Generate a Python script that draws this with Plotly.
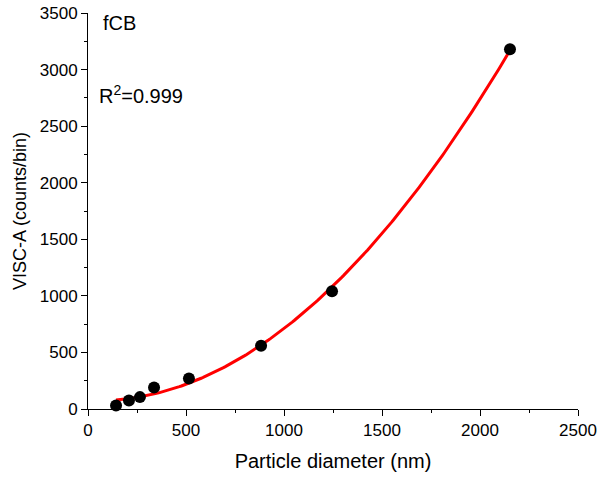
import numpy as np
import plotly.graph_objects as go

# Measured particle diameters (nm) and VISC-A response (counts/bin)
diameter_nm = [143, 209, 265, 337, 515, 883, 1245, 2153]
visc_counts = [30, 75, 105, 190, 270, 560, 1040, 3180]

# Second-order polynomial fit through the measurements
coef = np.polyfit(diameter_nm, visc_counts, 2)
fit_x = np.linspace(min(diameter_nm), max(diameter_nm), 200)
fit_y = np.polyval(coef, fit_x)

font_family = "Liberation Sans, Arial, sans-serif"

fig = go.Figure()
fig.add_trace(go.Scatter(
    x=fit_x, y=fit_y, mode="lines",
    line=dict(color="#ff0000", width=3),
    showlegend=False,
))
fig.add_trace(go.Scatter(
    x=diameter_nm, y=visc_counts, mode="markers",
    marker=dict(color="black", size=12, line=dict(width=0)),
    showlegend=False, cliponaxis=False,
))

axis_common = dict(
    showgrid=False, zeroline=False, showline=True, linecolor="black",
    linewidth=1, ticks="outside", ticklen=6, tickcolor="black", tickwidth=1,
    tickfont=dict(family=font_family, size=17, color="black"),
    minor=dict(ticks="outside", ticklen=3, tickcolor="black", dtick=250),
    dtick=500, tick0=0, automargin=False,
)

fig.update_layout(
    width=615, height=478,
    margin=dict(l=88, r=37, t=13, b=69),
    paper_bgcolor="white", plot_bgcolor="white",
    font=dict(family=font_family, color="black"),
    xaxis=dict(range=[0, 2500],
               title=dict(text="Particle diameter (nm)", standoff=14,
                          font=dict(family=font_family, size=20)),
               **axis_common),
    yaxis=dict(range=[0, 3500],
               title=dict(text="VISC-A (counts/bin)", standoff=8,
                          font=dict(family=font_family, size=18)),
               **axis_common),
    annotations=[
        dict(text="fCB", x=0.027, y=0.975, xref="paper", yref="paper",
             xanchor="left", yanchor="middle", showarrow=False,
             font=dict(family=font_family, size=20, color="black")),
        dict(text="R<sup>2</sup>=0.999", x=0.018, y=0.795, xref="paper", yref="paper",
             xanchor="left", yanchor="middle", showarrow=False,
             font=dict(family=font_family, size=20, color="black")),
    ],
)

fig.write_html("out.html")
